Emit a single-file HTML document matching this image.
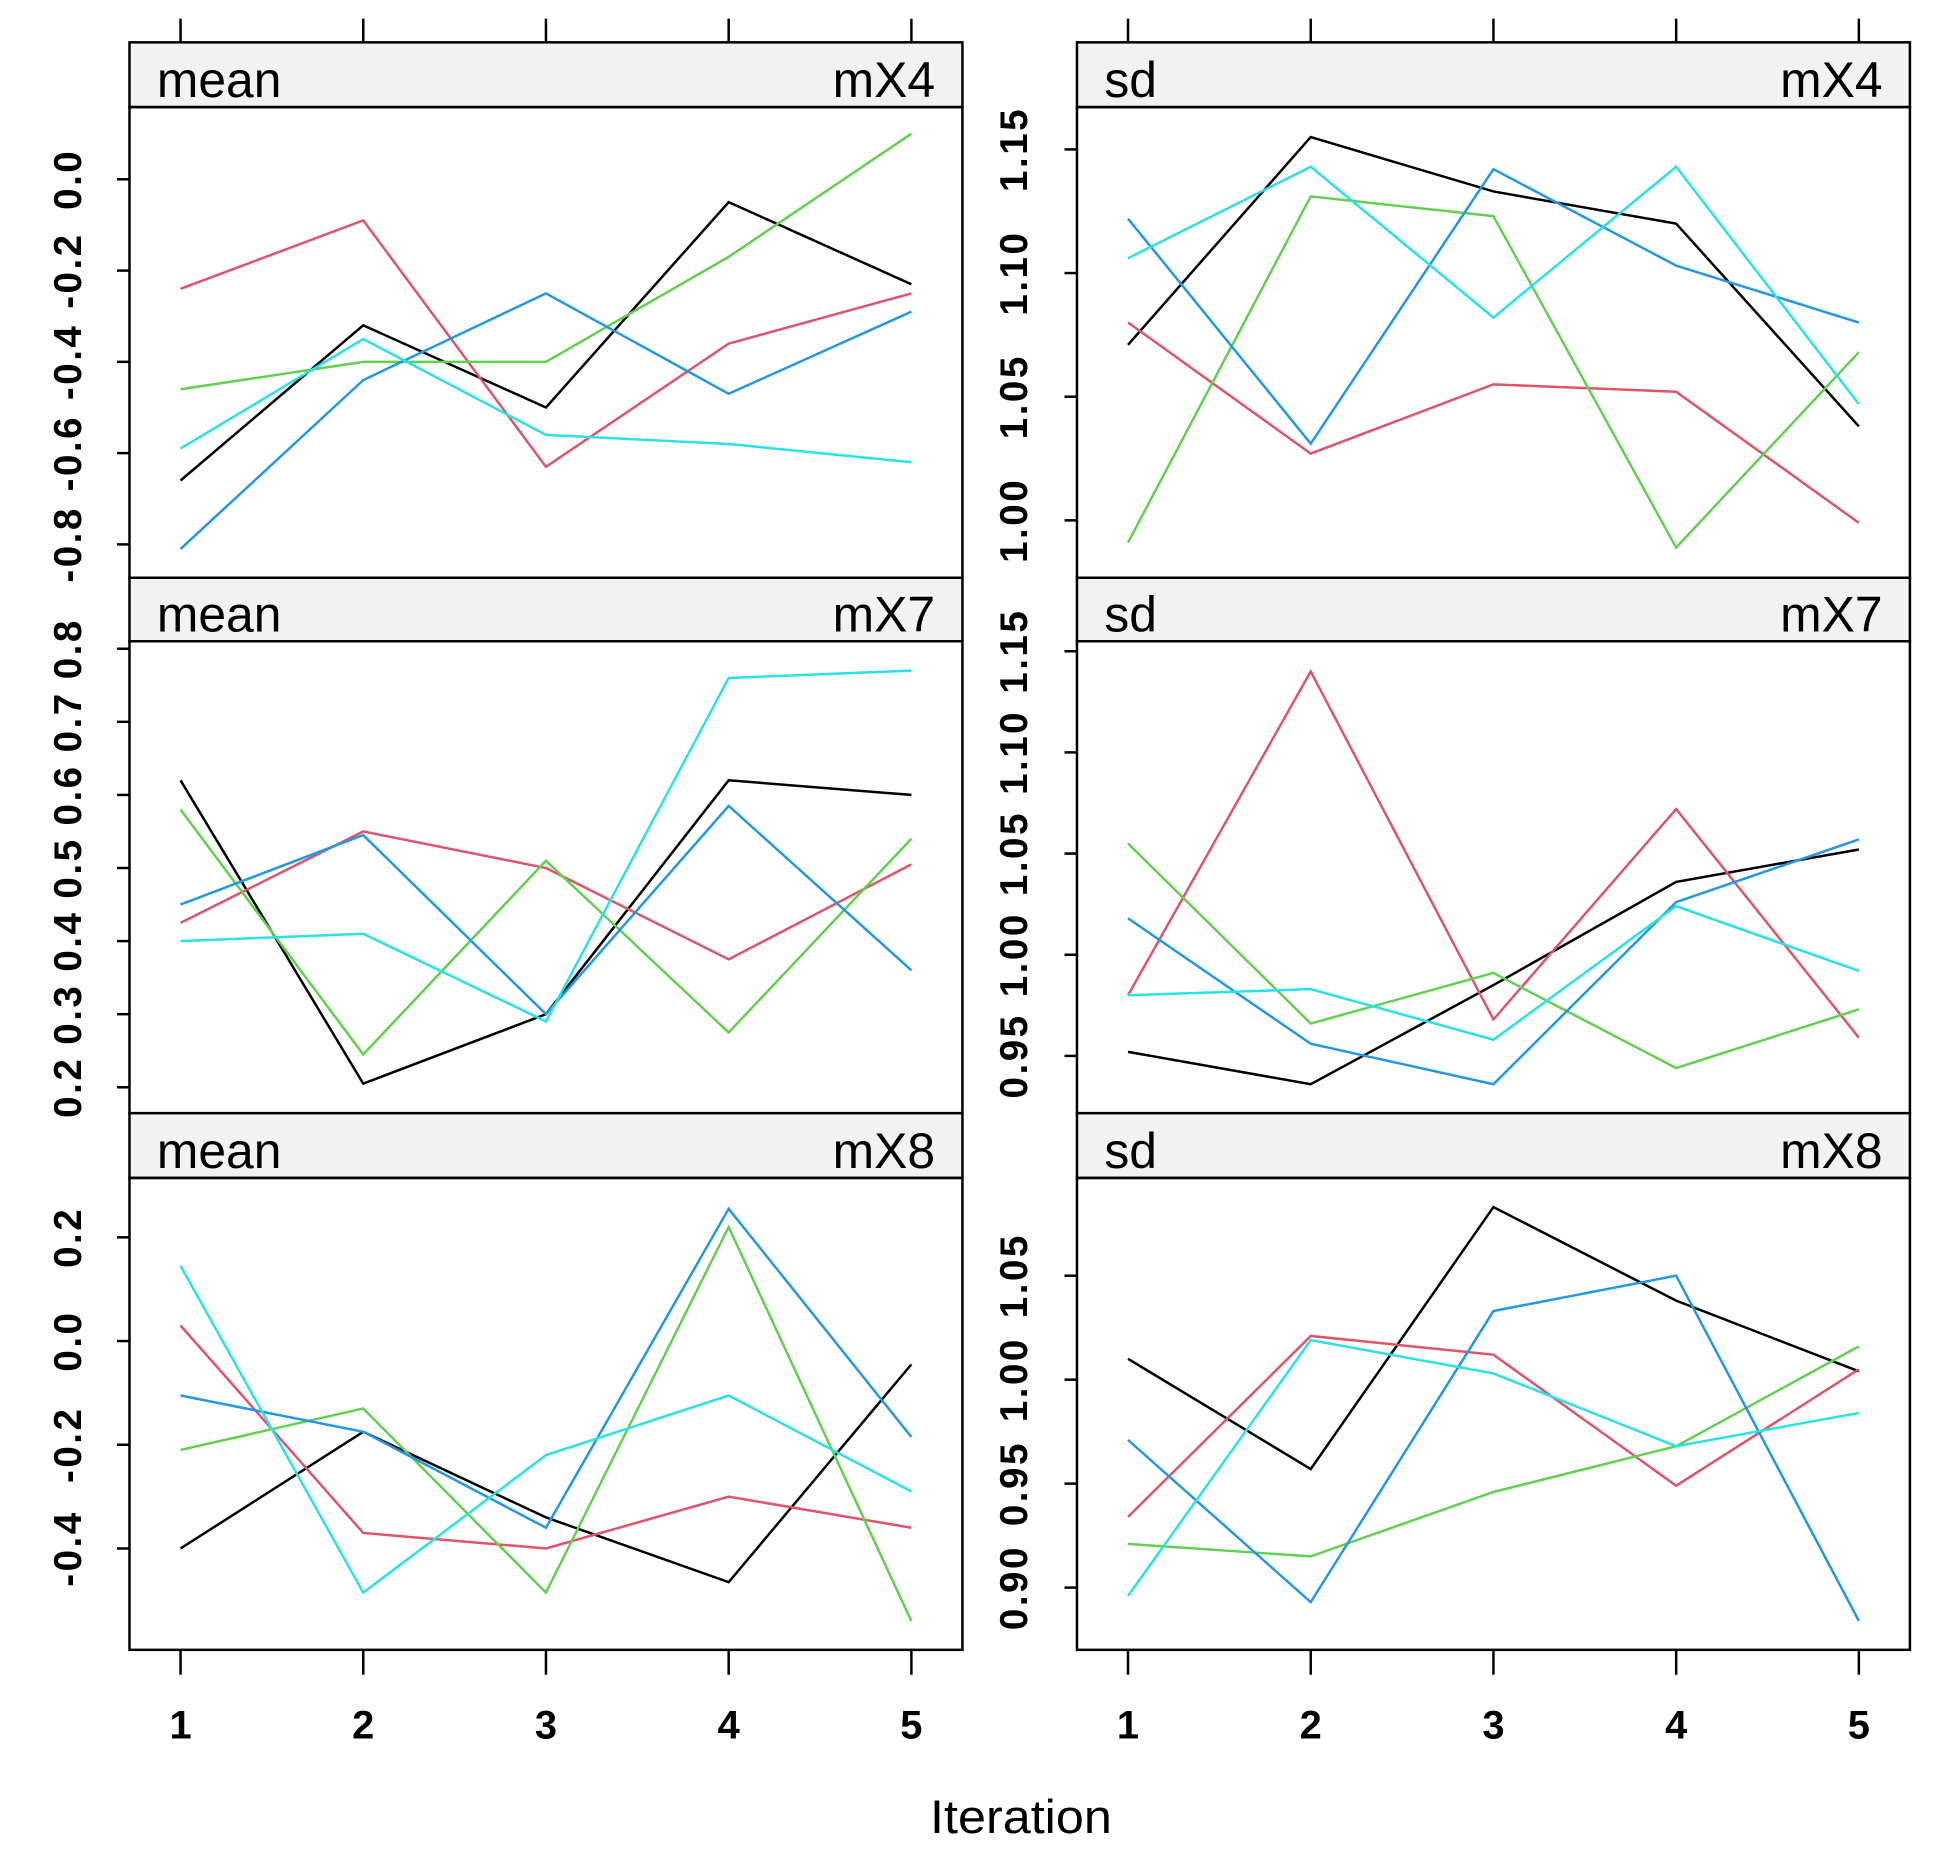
<!DOCTYPE html>
<html><head><meta charset="utf-8"><style>
html,body{margin:0;padding:0;background:#fff}
svg{display:block}
text{font-family:"Liberation Sans",Arial,sans-serif;fill:#000}
</style></head><body>
<svg id="chart" width="1951" height="1869" viewBox="0 0 1567 1501" preserveAspectRatio="none" xmlns="http://www.w3.org/2000/svg">
<g id="root"></g>
<text x="820" y="1472" font-size="38" text-anchor="middle" textLength="146" lengthAdjust="spacingAndGlyphs">Iteration</text>
</svg>
<script>
const iterations = [1,2,3,4,5];
const colors = ["#000000","#DF536B","#61D04F","#2297E6","#28E2E5"];
const meanX4 = [[-0.66,-0.32,-0.50,-0.05,-0.23],[-0.24,-0.09,-0.63,-0.36,-0.25],[-0.46,-0.40,-0.40,-0.17,0.10],[-0.81,-0.44,-0.25,-0.47,-0.29],[-0.59,-0.35,-0.56,-0.58,-0.62]];
const sdX4 = [[1.071,1.155,1.133,1.120,1.038],[1.080,1.027,1.055,1.052,0.999],[0.991,1.131,1.123,0.989,1.068],[1.122,1.031,1.142,1.103,1.080],[1.106,1.143,1.082,1.143,1.047]];
const meanX7 = [[0.62,0.205,0.30,0.62,0.60],[0.425,0.55,0.50,0.375,0.505],[0.58,0.245,0.51,0.275,0.54],[0.45,0.545,0.30,0.585,0.36],[0.40,0.41,0.29,0.76,0.77]];
const sdX7 = [[0.952,0.936,0.985,1.036,1.052],[0.980,1.140,0.968,1.072,0.959],[1.055,0.966,0.991,0.944,0.973],[1.018,0.956,0.936,1.026,1.057],[0.980,0.983,0.958,1.024,0.992]];
const meanX8 = [[-0.40,-0.175,-0.34,-0.465,-0.045],[0.03,-0.37,-0.40,-0.30,-0.36],[-0.21,-0.13,-0.485,0.22,-0.54],[-0.105,-0.175,-0.36,0.255,-0.185],[0.145,-0.485,-0.22,-0.105,-0.29]];
const sdX8 = [[1.010,0.957,1.083,1.038,1.004],[0.934,1.021,1.012,0.949,1.005],[0.921,0.915,0.946,0.968,1.016],[0.971,0.893,1.033,1.050,0.884],[0.896,1.019,1.003,0.968,0.984]];
const ticksMeanX4 = ["-0.8","-0.6","-0.4","-0.2","0.0"];
const ticksSdX4 = ["1.00","1.05","1.10","1.15"];
const ticksMeanX7 = ["0.2","0.3","0.4","0.5","0.6","0.7","0.8"];
const ticksSdX7 = ["0.95","1.00","1.05","1.10","1.15"];
const ticksMeanX8 = ["-0.4","-0.2","0.0","0.2"];
const ticksSdX8 = ["0.90","0.95","1.00","1.05"];

const NS="http://www.w3.org/2000/svg";
const root=document.getElementById('root');
function mk(tag,attrs,parent){const e=document.createElementNS(NS,tag);for(const k in attrs)e.setAttribute(k,attrs[k]);(parent||root).appendChild(e);return e;}

const panels=[
 {x0:104,x1:773,st:34,pt:86,pb:464,left:'mean',right:'mX4',data:meanX4,ticks:ticksMeanX4,v0:0,y0:144,k:366.5,name:'mean-mX4'},
 {x0:865,x1:1534,st:34,pt:86,pb:464,left:'sd',right:'mX4',data:sdX4,ticks:ticksSdX4,v0:1.15,y0:120,k:1986,name:'sd-mX4'},
 {x0:104,x1:773,st:464,pt:515,pb:894,left:'mean',right:'mX7',data:meanX7,ticks:ticksMeanX7,v0:0.8,y0:521,k:587,name:'mean-mX7'},
 {x0:865,x1:1534,st:464,pt:515,pb:894,left:'sd',right:'mX7',data:sdX7,ticks:ticksSdX7,v0:1.15,y0:523,k:1625,name:'sd-mX7'},
 {x0:104,x1:773,st:894,pt:946,pb:1325,left:'mean',right:'mX8',data:meanX8,ticks:ticksMeanX8,v0:0,y0:1077,k:416.5,name:'mean-mX8'},
 {x0:865,x1:1534,st:894,pt:946,pb:1325,left:'sd',right:'mX8',data:sdX8,ticks:ticksSdX8,v0:1.00,y0:1108,k:1670,name:'sd-mX8'}
];
panels.forEach((p,pi)=>{
  const g=mk('g',{});
  
  
  const xs=i=>p.x0+41+(i-1)*(p.x1-p.x0-82)/4;
  const ys=v=>p.y0-(v-p.v0)*p.k;
  const strip=mk('rect',{x:p.x0,y:p.st,width:p.x1-p.x0,height:p.pt-p.st,fill:'#f2f2f2',stroke:'#000','stroke-width':2},g);
  
  
  const tl=mk('text',{x:p.x0+22,y:p.pt-8,'font-size':40},g);tl.textContent=p.left;
  
  
  const tr=mk('text',{x:p.x1-22,y:p.pt-8,'font-size':40,'text-anchor':'end'},g);tr.textContent=p.right;
  
  
  mk('rect',{x:p.x0,y:p.pt,width:p.x1-p.x0,height:p.pb-p.pt,fill:'none',stroke:'#000','stroke-width':2},g);
  const lx=p.x0<500?55:815;
  p.ticks.forEach(t=>{
    const y=ys(parseFloat(t));
    mk('line',{x1:p.x0-10,x2:p.x0,y1:y,y2:y,stroke:'#000','stroke-width':2},g);
    const tx=mk('text',{x:lx,y:y,'font-size':31,'font-weight':'bold','letter-spacing':'2','text-anchor':'middle','dominant-baseline':'central',transform:`rotate(-90 ${lx} ${y})`},g);
    tx.textContent=t;
    
    
  });
  iterations.forEach(it=>{
    const x=xs(it);
    if(pi<2) mk('line',{x1:x,x2:x,y1:15,y2:34,stroke:'#000','stroke-width':2},g);
    if(pi>=4){
      mk('line',{x1:x,x2:x,y1:1325,y2:1345,stroke:'#000','stroke-width':2},g);
      const tx=mk('text',{x:x,y:1396,'font-size':32,'font-weight':'bold','text-anchor':'middle'},g);tx.textContent=it;
      
      
    }
  });
  p.data.forEach((s,si)=>{
    const pts=s.map((v,i)=>xs(iterations[i])+','+ys(v)).join(' ');
    const pl=mk('polyline',{points:pts,fill:'none',stroke:colors[si],'stroke-width':2},g);
    
    
  });
});
</script>
</body></html>
